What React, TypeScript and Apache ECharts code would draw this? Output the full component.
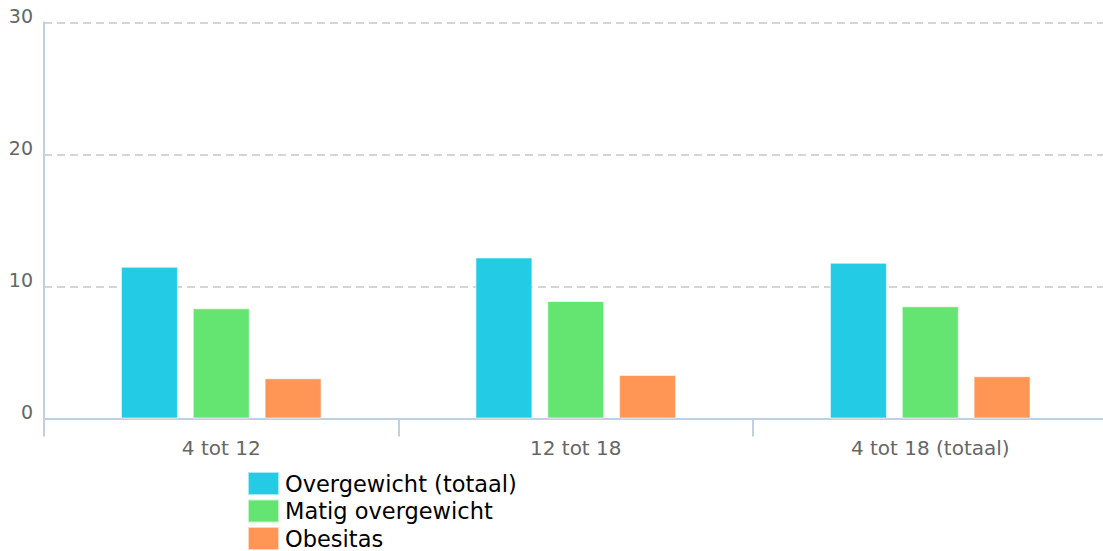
import React, { useEffect, useRef } from "react";
import * as echarts from "echarts";

const categories = ["4 tot 12", "12 tot 18", "4 tot 18 (totaal)"];
const overgewichtTotaal = [11.5, 12.2, 11.8];
const matigOvergewicht = [8.35, 8.9, 8.5];
const obesitas = [3.05, 3.3, 3.2];
const seriesNames = ["Overgewicht (totaal)", "Matig overgewicht", "Obesitas"];
const colors = ["#24cbe5", "#64e572", "#ff9655"];
const yTicks = { min: 0, max: 30, interval: 10 };

export default function App() {
  const ref = useRef<HTMLDivElement>(null);
  useEffect(() => {
    if (!ref.current) return;
    const chart = echarts.init(ref.current, undefined, { renderer: "svg" });
    const font = "DejaVu Sans, Verdana, sans-serif";
    const dataSets = [overgewichtTotaal, matigOvergewicht, obesitas];
    chart.setOption({
      animation: false,
      textStyle: { fontFamily: font },
      grid: { left: 44, right: 12.5, top: 22.5, bottom: 132.5, containLabel: false },
      legend: {
        orient: "vertical",
        left: 247,
        top: 471,
        itemWidth: 31,
        itemHeight: 23,
        itemGap: 2.5,
        icon: "rect",
        padding: 0,
        textStyle: { fontSize: 22.5, color: "#000", fontFamily: font, padding: [0, 0, 0, 1] },
        data: seriesNames,
      },
      xAxis: {
        type: "category",
        data: categories,
        axisLine: { lineStyle: { color: "#c0d0e0", width: 2 } },
        axisTick: { show: true, length: 18, lineStyle: { color: "#c0d0e0", width: 2 } },
        axisLabel: { fontSize: 20, color: "#666", margin: 19, fontFamily: font },
        splitLine: { show: false },
      },
      yAxis: {
        type: "value",
        min: yTicks.min,
        max: yTicks.max,
        interval: yTicks.interval,
        axisLine: { show: true, lineStyle: { color: "#c0d0e0", width: 2 } },
        axisTick: { show: false },
        axisLabel: {
          fontSize: 19,
          color: "#666",
          margin: 11,
          verticalAlign: "bottom",
          lineHeight: 13,
          fontFamily: font,
        },
        splitLine: { lineStyle: { color: "#c8c8c8", type: [8, 5], width: 1.6 } },
      },
      series: seriesNames.map((name, i) => ({
        name,
        type: "bar",
        data: dataSets[i],
        barWidth: 57,
        barGap: "26%",
        itemStyle: { color: colors[i], borderColor: "rgba(255,255,255,0.6)", borderWidth: 1 },
      })),
    });
    return () => chart.dispose();
  }, []);
  return (
    <div
      style={{ position: "fixed", left: 0, top: 0, width: 1103, height: 551, overflow: "hidden", background: "#fff" }}
    >
      <div ref={ref} style={{ width: 1120, height: 551 }} />
    </div>
  );
}
